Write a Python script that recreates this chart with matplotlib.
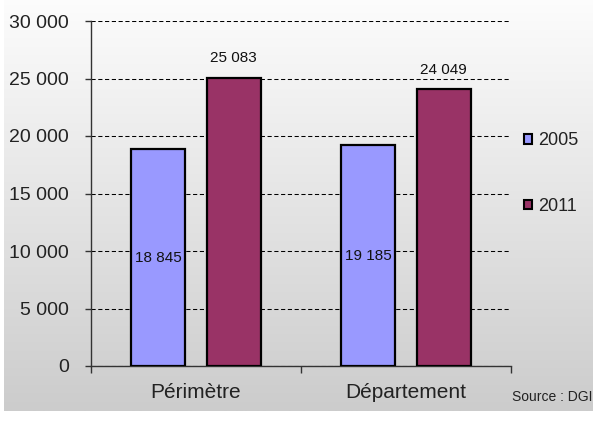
import numpy as np
import matplotlib
matplotlib.use("Agg")
import matplotlib.pyplot as plt
from matplotlib.patches import Rectangle

categories = ["Périmètre", "Département"]
series_names = ["2005", "2011"]
values_2005 = [18845, 19185]
values_2011 = [25083, 24049]
y_ticks = [0, 5000, 10000, 15000, 20000, 25000, 30000]
y_tick_labels = ["0", "5 000", "10 000", "15 000", "20 000", "25 000", "30 000"]
colors = ["#9999ff", "#993366"]

plt.rcParams['font.family'] = ['Liberation Sans', 'DejaVu Sans']

W, H = 593, 421
fig = plt.figure(figsize=(W / 100, H / 100), dpi=100)
fig.patch.set_facecolor("white")

# background gradient panel
bg = fig.add_axes([4 / W, 10 / H, 1 - 4 / W, 1 - 10 / H], zorder=-10)
grad = np.linspace(0, 1, 256).reshape(-1, 1)
top = np.array([0.99, 0.99, 0.99])
bot = np.array([0.80, 0.80, 0.80])
img = top[None, None, :] * (1 - grad[:, :, None]) + bot[None, None, :] * grad[:, :, None]
bg.imshow(img, aspect="auto", extent=[0, 1, 0, 1], origin="upper")
bg.set_axis_off()

ax = fig.add_axes([91 / W, 1 - 366 / H, 420 / W, 345 / H])
ax.set_facecolor("none")

x = np.arange(len(categories))
bw = 0.257
off = 0.18
b1 = ax.bar(x - off, values_2005, bw, color=colors[0], edgecolor="black", linewidth=1.6, zorder=3)
b2 = ax.bar(x + off, values_2011, bw, color=colors[1], edgecolor="black", linewidth=1.6, zorder=3)

def fmt(v):
    return f"{v:,}".replace(",", " ")

for xi, v in zip(x - off, values_2005):
    ax.text(xi, v / 2, fmt(v), ha="center", va="center", fontsize=11, color="#111111", zorder=4)
for xi, v in zip(x + off, values_2011):
    ax.text(xi, v + 1700, fmt(v), ha="center", va="center", fontsize=11, color="#111111", zorder=4)

ax.set_xlim(-0.5, 1.5)
ax.set_ylim(0, 30000)
ax.set_yticks(y_ticks)
ax.set_yticklabels(y_tick_labels, fontsize=14, color="#222222")
ax.yaxis.grid(True, color="black", linestyle=(0, (4, 2.5)), linewidth=0.75, zorder=1)
ax.tick_params(axis="y", direction="out", length=4, width=1, pad=12, colors="#333333", labelcolor="#222222")

ax.set_xticks([-0.5, 0.5, 1.5])
ax.set_xticklabels([])
ax.tick_params(axis="x", which="major", direction="out", length=5, width=1, colors="#333333")
ax.set_xticks(x, minor=True)
ax.set_xticklabels(categories, minor=True, fontsize=15, color="#222222")
ax.tick_params(axis="x", which="minor", length=0, pad=12)

for s in ["top", "right"]:
    ax.spines[s].set_visible(False)
for s in ["left", "bottom"]:
    ax.spines[s].set_color("#333333")
    ax.spines[s].set_linewidth(1)

handles = [Rectangle((0, 0), 1, 1, facecolor=c, edgecolor="black", linewidth=1.5) for c in colors]
leg = fig.legend(handles, series_names, loc="center left", bbox_to_anchor=(524 / W, 1 - 173.5 / H),
                 frameon=False, fontsize=13, handlelength=0.45, handleheight=0.45,
                 handletextpad=0.35, labelspacing=2.7, borderpad=0, borderaxespad=0)
for t in leg.get_texts():
    t.set_color("#222222")

fig.text(592 / W, 1 - 397 / H, "Source : DGI", fontsize=10, ha="right", va="center", color="#222222")

fig.savefig("out.png", dpi=100)
